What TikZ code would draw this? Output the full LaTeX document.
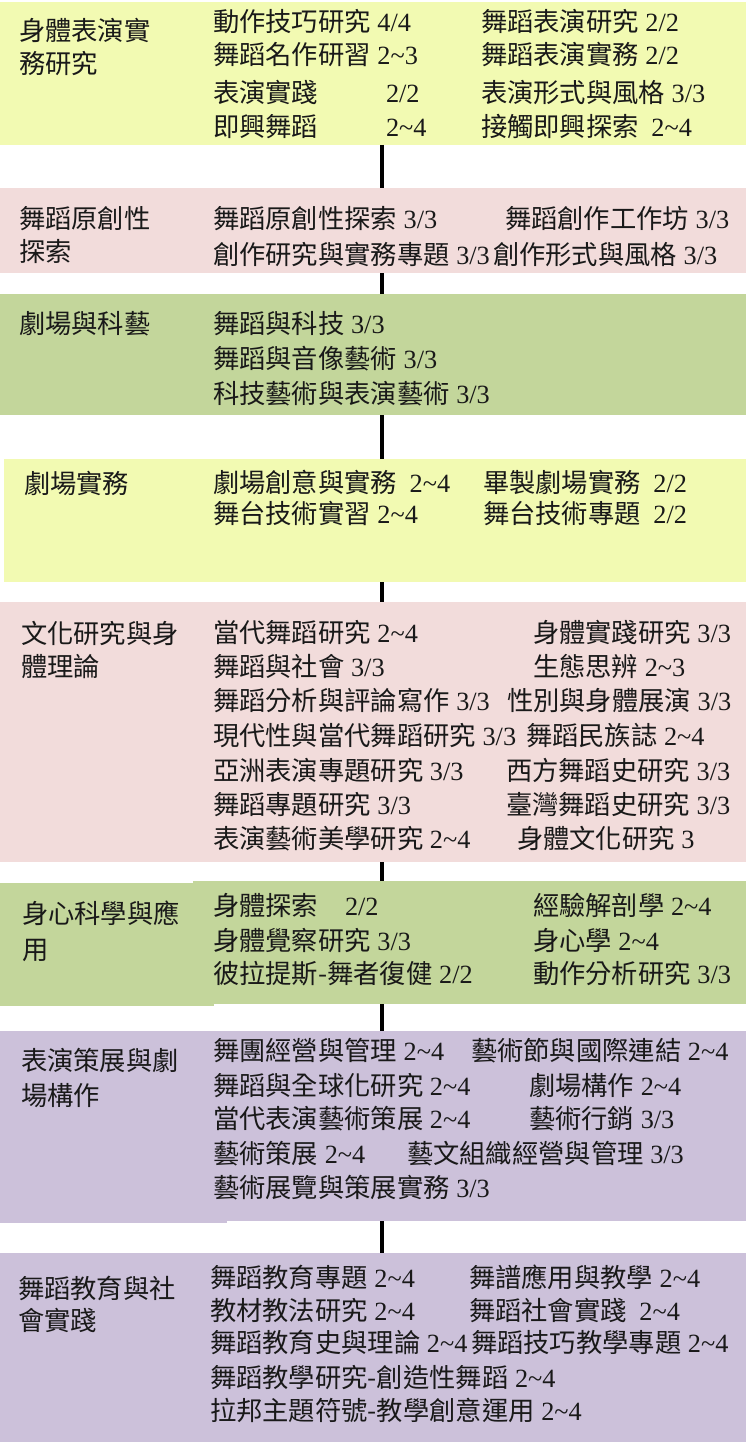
\documentclass[tikz,border=0pt]{standalone}
\usepackage{fontspec}
\setmainfont{Noto Sans CJK TC}
\newfontfamily\numfont{Liberation Serif}
\newcommand\cf{\fontsize{26.3}{33}\selectfont}
\newcommand\nm[1]{{\numfont\ #1}}
\newcommand\nn[1]{{\numfont #1}}
\newcommand\rng[2]{{\numfont\ #1\char"7E\relax#2}}
\newcommand\rgn[2]{{\numfont #1\char"7E\relax#2}}
\definecolor{cyel}{RGB}{242,250,178}
\definecolor{cpink}{RGB}{242,220,219}
\definecolor{cgreen}{RGB}{195,214,155}
\definecolor{cpurp}{RGB}{204,193,218}
\tikzset{
  box/.style={inner sep=0pt, outer sep=0pt, anchor=north west, draw=none},
  txt/.style={inner sep=0pt, outer sep=0pt, anchor=base west, font=\cf, text=black!90},
  ttl/.style={txt, align=left},
  conn/.style={line width=3.3pt, black}
}
\begin{document}
\begin{tikzpicture}[x=1pt,y=-1pt]
\useasboundingbox (0,0) rectangle (746,1442);
\coordinate (cx) at (382,0);
% boxes
\node[box, fill=cyel,  minimum width=746pt, minimum height=143pt] (b1) at (0,2) {};
\node[box, fill=cpink, minimum width=746pt, minimum height=85pt]  (b2) at (0,188) {};
\node[box, fill=cgreen,minimum width=746pt, minimum height=121pt] (b3) at (0,294) {};
\node[box, fill=cyel,  minimum width=742.5pt, minimum height=123pt] (b4) at (3.5,459) {};
\node[box, fill=cpink, minimum width=746pt, minimum height=260pt] (b5) at (0,602) {};
\node[box, fill=cgreen,minimum width=746pt, minimum height=123pt] (b6) at (0,881) {};
\fill[white] (0,881) rectangle (193,883);
\fill[cgreen] (0,1004) rectangle (214,1006);
\node[box, fill=cpurp, minimum width=746pt, minimum height=190pt] (b7) at (0,1031) {};
\fill[cpurp] (0,1221) rectangle (227,1223);
\node[box, fill=cpurp, minimum width=746pt, minimum height=189pt] (b8) at (0,1253) {};
% connectors
\draw[conn] (b1.south -| cx) -- (b2.north -| cx);
\draw[conn] (b2.south -| cx) -- (b3.north -| cx);
\draw[conn] (b3.south -| cx) -- (b4.north -| cx);
\draw[conn] (b4.south -| cx) -- (b5.north -| cx);
\draw[conn] (b5.south -| cx) -- (b6.north -| cx);
\draw[conn] (b6.south -| cx) -- (b7.north -| cx);
\draw[conn] (b7.south -| cx) -- (b8.north -| cx);
% box 1
\node[ttl] (t1) at (19,74) {身體表演實\\務研究};
\node[txt] (a1) at (213,32) {動作技巧研究\nm{4/4}};
\node[txt] (a2) at (213,65) {舞蹈名作研習\rng{2}{3}};
\node[txt] (a3) at (213,103) {\makebox[173pt][l]{表演實踐}\nn{2/2}};
\node[txt] (a4) at (213,137) {\makebox[173pt][l]{即興舞蹈}\rgn{2}{4}};
\node[txt] (a5) at (481,32) {舞蹈表演研究\nm{2/2}};
\node[txt] (a6) at (481,65) {舞蹈表演實務\nm{2/2}};
\node[txt] (a7) at (481,103) {表演形式與風格\nm{3/3}};
\node[txt] (a8) at (481,137) {接觸即興探索\hspace{6pt}\rng{2}{4}};
% box 2
\node[ttl] (t2) at (19,261) {舞蹈原創性\\探索};
\node[txt] (c1) at (213,228) {舞蹈原創性探索\nm{3/3}};
\node[txt] (c2) at (213,264) {創作研究與實務專題\nm{3/3}};
\node[txt] (c3) at (505,228) {舞蹈創作工作坊\nm{3/3}};
\node[txt] (c4) at (493,264) {創作形式與風格\nm{3/3}};
% box 3
\node[ttl] (t3) at (19,333) {劇場與科藝};
\node[txt] (d1) at (213,333) {舞蹈與科技\nm{3/3}};
\node[txt] (d2) at (213,368) {舞蹈與音像藝術\nm{3/3}};
\node[txt] (d3) at (213,403) {科技藝術與表演藝術\nm{3/3}};
% box 4
\node[ttl] (t4) at (24,493) {劇場實務};
\node[txt] (e1) at (213,492) {劇場創意與實務\hspace{6pt}\rng{2}{4}};
\node[txt] (e2) at (213,523) {舞台技術實習\rng{2}{4}};
\node[txt] (e3) at (483,492) {畢製劇場實務\hspace{6pt}\nm{2/2}};
\node[txt] (e4) at (483,523) {舞台技術專題\hspace{6pt}\nm{2/2}};
% box 5
\node[ttl] (t5) at (21,676) {文化研究與身\\體理論};
\node[txt] (f1) at (213,642) {當代舞蹈研究\rng{2}{4}};
\node[txt] (f2) at (213,676) {舞蹈與社會\nm{3/3}};
\node[txt] (f3) at (213,710) {舞蹈分析與評論寫作\nm{3/3}};
\node[txt] (f4) at (213,745) {現代性與當代舞蹈研究\nm{3/3}};
\node[txt] (f5) at (213,780) {亞洲表演專題研究\nm{3/3}};
\node[txt] (f6) at (213,814) {舞蹈專題研究\nm{3/3}};
\node[txt] (f7) at (213,848) {表演藝術美學研究\rng{2}{4}};
\node[txt] (g1) at (533,642) {身體實踐研究\nm{3/3}};
\node[txt] (g2) at (533,676) {生態思辨\rng{2}{3}};
\node[txt] (g3) at (507,710) {性別與身體展演\nm{3/3}};
\node[txt] (g4) at (526,745) {舞蹈民族誌\rng{2}{4}};
\node[txt] (g5) at (506,780) {西方舞蹈史研究\nm{3/3}};
\node[txt] (g6) at (506,814) {臺灣舞蹈史研究\nm{3/3}};
\node[txt] (g7) at (517,848) {身體文化研究\nm{3}};
% box 6
\node[ttl, font=\fontsize{26.3}{36}\selectfont] (t6) at (22,959) {身心科學與應\\用};
\node[txt] (h1) at (213,915) {\makebox[132pt][l]{身體探索}\nn{2/2}};
\node[txt] (h2) at (213,950) {身體覺察研究\nm{3/3}};
\node[txt] (h3) at (213,983) {彼拉提斯-舞者復健\nm{2/2}};
\node[txt] (h4) at (533,915) {經驗解剖學\rng{2}{4}};
\node[txt] (h5) at (533,950) {身心學\rng{2}{4}};
\node[txt] (h6) at (533,983) {動作分析研究\nm{3/3}};
% box 7
\node[ttl, font=\fontsize{26.3}{35}\selectfont] (t7) at (21,1105) {表演策展與劇\\場構作};
\node[txt] (k1) at (213,1060) {舞團經營與管理\rng{2}{4}};
\node[txt] (k2) at (213,1095) {舞蹈與全球化研究\rng{2}{4}};
\node[txt] (k3) at (213,1128) {當代表演藝術策展\rng{2}{4}};
\node[txt] (k4) at (213,1163) {藝術策展\rng{2}{4}};
\node[txt] (k5) at (213,1197) {藝術展覽與策展實務\nm{3/3}};
\node[txt] (k6) at (471,1060) {藝術節與國際連結\rng{2}{4}};
\node[txt] (k7) at (529,1095) {劇場構作\rng{2}{4}};
\node[txt] (k8) at (529,1128) {藝術行銷\nm{3/3}};
\node[txt] (k9) at (407,1163) {藝文組織經營與管理\nm{3/3}};
% box 8
\node[ttl, font=\fontsize{26.3}{32}\selectfont] (t8) at (18,1330) {舞蹈教育與社\\會實踐};
\node[txt] (m1) at (210,1287) {舞蹈教育專題\rng{2}{4}};
\node[txt] (m2) at (210,1320) {教材教法研究\rng{2}{4}};
\node[txt] (m3) at (210,1352) {舞蹈教育史與理論\rng{2}{4}};
\node[txt] (m4) at (210,1387) {舞蹈教學研究-創造性舞蹈\rng{2}{4}};
\node[txt] (m5) at (210,1420) {拉邦主題符號-教學創意運用\rng{2}{4}};
\node[txt] (m6) at (469,1287) {舞譜應用與教學\rng{2}{4}};
\node[txt] (m7) at (469,1320) {舞蹈社會實踐\hspace{6pt}\rng{2}{4}};
\node[txt] (m8) at (471,1352) {舞蹈技巧教學專題\rng{2}{4}};
\end{tikzpicture}
\end{document}
